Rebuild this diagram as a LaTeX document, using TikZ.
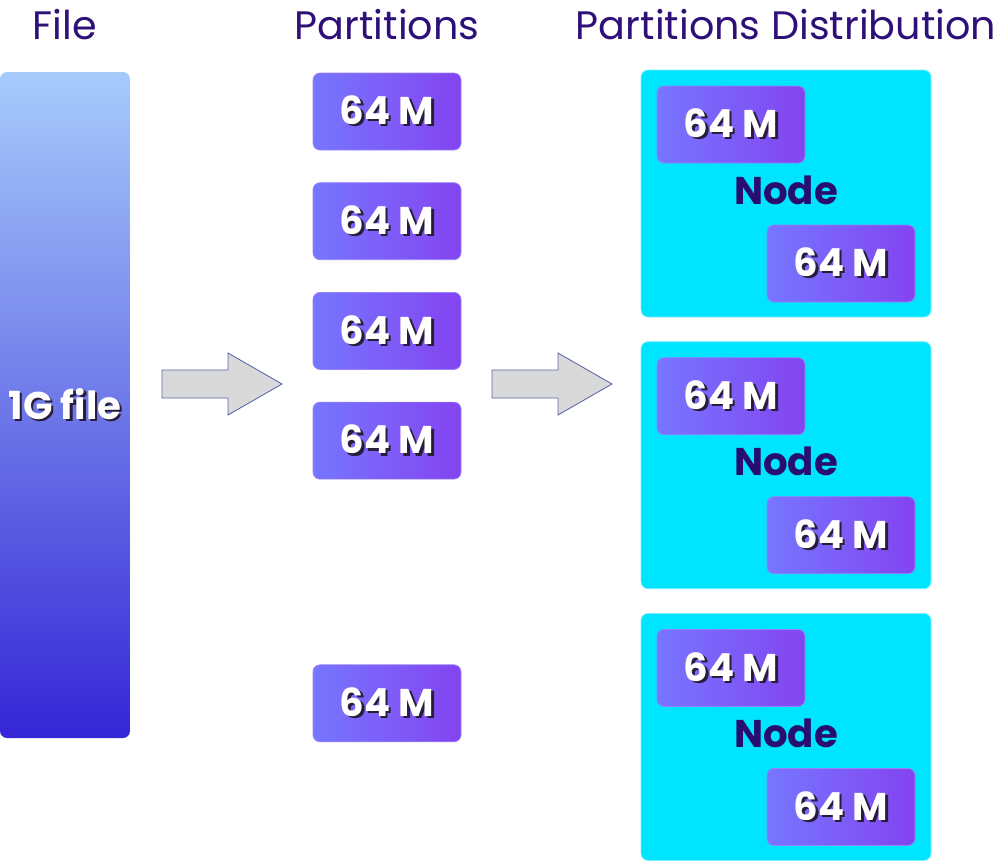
\documentclass[tikz,border=0pt]{standalone}
\usepackage{xcolor}
\usepackage{fontspec}
\setmainfont{Poppins}
\usepackage{tikz}
\usetikzlibrary{positioning,calc}
\definecolor{titlepurple}{RGB}{46,16,120}
\definecolor{nodetext}{RGB}{40,14,110}
\definecolor{filetop}{RGB}{167,203,251}
\definecolor{filebottom}{RGB}{53,38,214}
\definecolor{partleft}{RGB}{118,118,255}
\definecolor{partright}{RGB}{132,68,240}
\definecolor{partedge}{RGB}{150,130,250}
\definecolor{nodecyan}{RGB}{0,229,255}
\definecolor{cyanedge}{RGB}{120,240,255}
\definecolor{arrowgray}{RGB}{217,217,217}
\definecolor{arrowedge}{RGB}{90,105,170}
\definecolor{shadowcol}{RGB}{40,30,60}
\newcommand{\shtext}[1]{\makebox[0pt][l]{\hspace{1.3pt}\raisebox{-1.3pt}{\color{shadowcol}#1}}#1}
\tikzset{
  title/.style  ={font=\fontsize{22.6}{26}\selectfont, text=titlepurple, inner sep=0pt},
  filebar/.style={rectangle, rounded corners=4pt, top color=filetop, bottom color=filebottom,
                  draw=none, minimum width=2.6cm, minimum height=13.32cm,
                  text=white, font=\fontsize{22}{26}\selectfont\bfseries},
  part/.style   ={rectangle, rounded corners=4pt, left color=partleft, right color=partright,
                  draw=partedge, line width=0.4pt, minimum width=2.96cm, minimum height=1.54cm,
                  text=white, font=\fontsize{22}{26}\selectfont\bfseries, inner sep=0pt},
  host/.style   ={rectangle, rounded corners=4pt, fill=nodecyan, draw=cyanedge, line width=0.4pt,
                  minimum width=5.8cm, minimum height=4.94cm},
  hostlbl/.style={font=\fontsize{22}{26}\selectfont\bfseries, text=nodetext, inner sep=0pt},
  blockarr/.pic ={\draw[fill=arrowgray, draw=arrowedge, line width=0.5pt]
                  (0,0.28) -- (1.32,0.28) -- (1.32,0.62) -- (2.4,0) -- (1.32,-0.62)
                  -- (1.32,-0.28) -- (0,-0.28) -- cycle;}
}
\begin{document}
\begin{tikzpicture}[node distance=0.64cm]
\useasboundingbox (0,0) rectangle (20,-17.2);
% titles
\node[title] (tfile) at (1.3,-0.5) {File};
\node[title] (tpart) at (7.74,-0.5) {Partitions};
\node[title] (tdist) at (15.72,-0.5) {Partitions Distribution};

% file
\node[filebar] (file) at (1.3,-8.1) {\shtext{1G file}};

% partitions
\node[part] (p1) at (7.74,-2.23) {\shtext{64 M}};
\node[part, below=of p1] (p2) {\shtext{64 M}};
\node[part, below=of p2] (p3) {\shtext{64 M}};
\node[part, below=of p3] (p4) {\shtext{64 M}};
\node[part, below=3.7cm of p4] (p5) {\shtext{64 M}};

% arrows
\pic at (3.24,-7.68) {blockarr};
\pic at (9.84,-7.68) {blockarr};

% distribution
\node[host] (n1) at (15.72,-3.87) {};
\node[host, below=0.48cm of n1] (n2) {};
\node[host, below=0.48cm of n2] (n3) {};
\foreach \n in {n1,n2,n3}{
  \node[part, anchor=north west] (\n a) at ($(\n.north west)+(0.32,-0.32)$) {\shtext{64 M}};
  \node[part, anchor=south east] (\n b) at ($(\n.south east)+(-0.32,0.3)$) {\shtext{64 M}};
  \node[hostlbl] (\n l) at ($(\n.center)+(0,0.07)$) {Node};
}
\end{tikzpicture}
\end{document}
